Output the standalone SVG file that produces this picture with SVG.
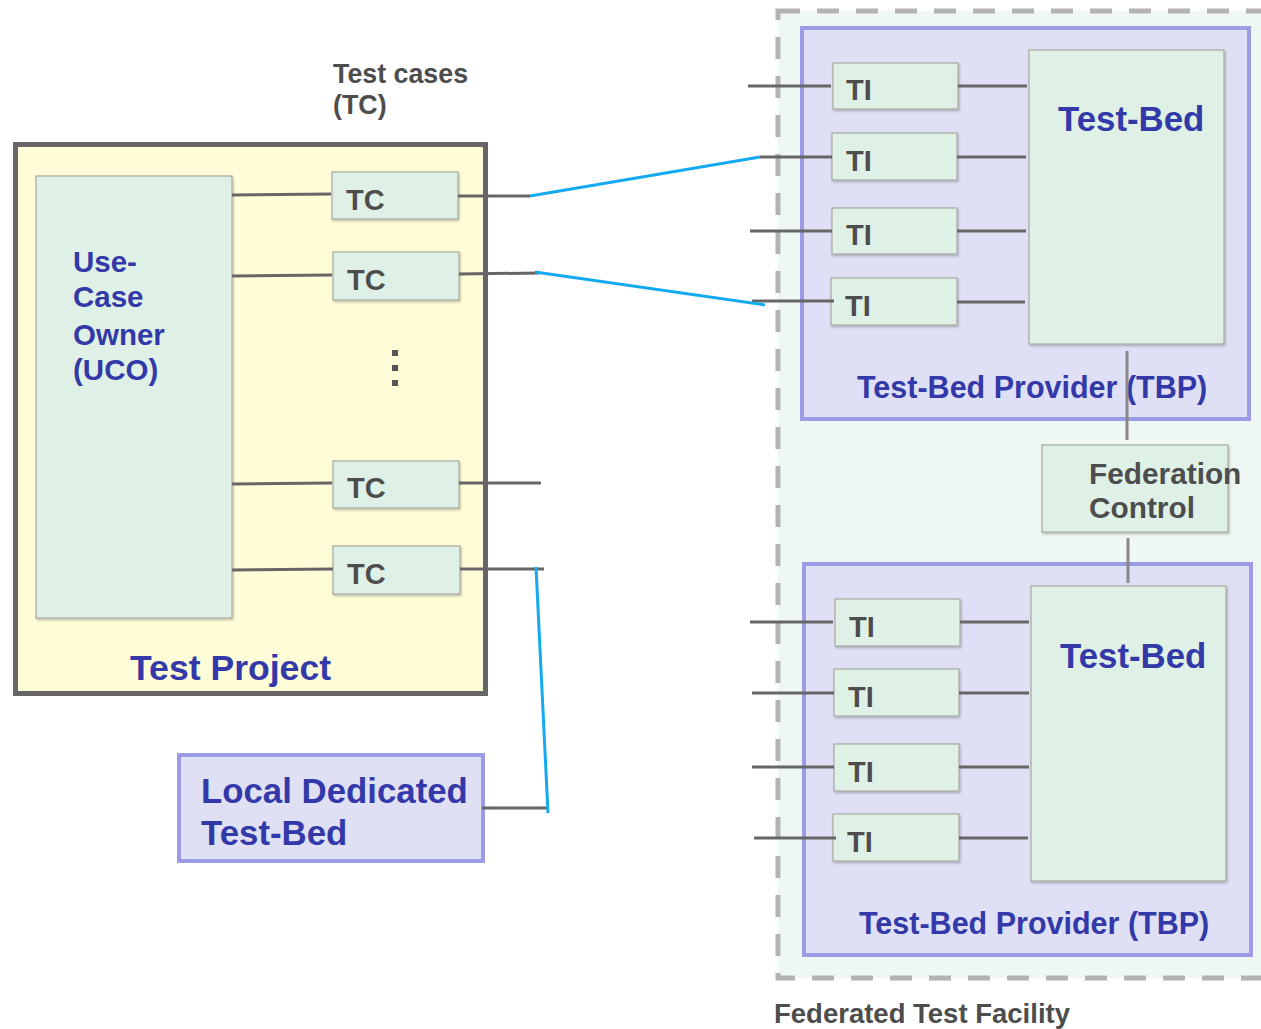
<svg xmlns="http://www.w3.org/2000/svg" width="1261" height="1029" viewBox="0 0 1261 1029">
<defs>
<filter id="sh" x="-10%" y="-10%" width="130%" height="130%"><feDropShadow dx="1" dy="1.5" stdDeviation="1" flood-color="#000" flood-opacity="0.25"/></filter>
</defs>
<style>
.bt{font-family:"Liberation Sans",Arial,sans-serif;font-weight:bold;fill:#3339a8}
.gt{font-family:"Liberation Sans",Arial,sans-serif;font-weight:bold;fill:#4d4d4d}
.box{fill:#dff1e7;stroke:#a8a8a0;stroke-width:1.2;filter:url(#sh)}
.tbp{fill:#dfe0f5;stroke:#9b9be6;stroke-width:4}
.ln{stroke:#666;stroke-width:3;fill:none}
.vl{stroke:#888;stroke-width:3;fill:none}
.bl{stroke:#14aaf0;stroke-width:3;fill:none}
</style>
<rect width="1261" height="1029" fill="#fff"/>

<g id="federated-test-facility">
<rect x="778" y="11" width="500" height="967" fill="#eef7f2" stroke="#b3b3b3" stroke-width="5" stroke-dasharray="22 17"/>
<text class="gt" x="774" y="1023" font-size="27.5">Federated Test Facility</text>
</g>

<g id="test-project">
<rect x="15.5" y="144.5" width="470" height="549" fill="#fffcd8" stroke="#666" stroke-width="5"/>
<text class="bt" x="130" y="680" font-size="35.6">Test Project</text>
</g>

<g id="uco">
<rect class="box" x="36" y="176" width="196" height="442"/>
<text class="bt" font-size="29.5"><tspan x="73" y="272">Use-</tspan><tspan x="73" y="307">Case</tspan><tspan x="73" y="345">Owner</tspan><tspan x="73" y="380">(UCO)</tspan></text>
</g>

<g id="test-cases-label">
<text class="gt" font-size="26.8"><tspan x="333" y="83">Test cases</tspan><tspan x="333" y="114">(TC)</tspan></text>
</g>

<g id="tc1"><rect class="box" x="332" y="172" width="126" height="47"/><text class="gt" x="346" y="210" font-size="29">TC</text></g>
<g id="tc2"><rect class="box" x="333" y="252" width="126" height="48"/><text class="gt" x="347" y="290" font-size="29">TC</text></g>
<g id="dots" fill="#555"><rect x="392" y="350" width="6" height="6"/><rect x="392" y="365" width="6" height="6"/><rect x="392" y="380" width="6" height="6"/></g>
<g id="tc3"><rect class="box" x="333" y="461" width="126" height="47"/><text class="gt" x="347" y="498" font-size="29">TC</text></g>
<g id="tc4"><rect class="box" x="333" y="546" width="127" height="48"/><text class="gt" x="347" y="584" font-size="29">TC</text></g>

<g id="local-test-bed">
<rect x="179" y="755" width="304" height="106" fill="#e0e0f5" stroke="#9b9be6" stroke-width="4"/>
<text class="bt" font-size="34.8"><tspan x="201" y="803">Local Dedicated</tspan><tspan x="201" y="845">Test-Bed</tspan></text>
</g>

<g id="tbp-upper">
<rect class="tbp" x="802" y="28" width="447" height="391"/>
<text class="bt" x="857" y="398" font-size="30.5">Test-Bed Provider (TBP)</text>
</g>
<g id="testbed-upper"><rect class="box" x="1029" y="50" width="195" height="294"/><text class="bt" x="1058" y="131" font-size="34.8">Test-Bed</text></g>
<g id="ti-u1"><rect class="box" x="833" y="63" width="125" height="46"/><text class="gt" x="846" y="100" font-size="29">TI</text></g>
<g id="ti-u2"><rect class="box" x="832" y="133" width="125" height="47"/><text class="gt" x="846" y="171" font-size="29">TI</text></g>
<g id="ti-u3"><rect class="box" x="832" y="208" width="125" height="46"/><text class="gt" x="846" y="245" font-size="29">TI</text></g>
<g id="ti-u4"><rect class="box" x="831" y="278" width="126" height="47"/><text class="gt" x="845" y="316" font-size="29">TI</text></g>

<g id="federation-control">
<rect class="box" x="1042" y="445" width="186" height="87"/>
<text class="gt" font-size="29.8"><tspan x="1089" y="484">Federation</tspan><tspan x="1089" y="518">Control</tspan></text>
</g>

<g id="tbp-lower">
<rect class="tbp" x="804" y="564" width="447" height="391"/>
<text class="bt" x="859" y="934" font-size="30.5">Test-Bed Provider (TBP)</text>
</g>
<g id="testbed-lower"><rect class="box" x="1031" y="586" width="195" height="295"/><text class="bt" x="1060" y="668" font-size="34.8">Test-Bed</text></g>
<g id="ti-l1"><rect class="box" x="835" y="599" width="125" height="47"/><text class="gt" x="849" y="637" font-size="29">TI</text></g>
<g id="ti-l2"><rect class="box" x="834" y="669" width="125" height="47"/><text class="gt" x="848" y="707" font-size="29">TI</text></g>
<g id="ti-l3"><rect class="box" x="834" y="744" width="125" height="47"/><text class="gt" x="848" y="782" font-size="29">TI</text></g>
<g id="ti-l4"><rect class="box" x="833" y="814" width="126" height="47"/><text class="gt" x="847" y="852" font-size="29">TI</text></g>

<g id="connectors">
<path class="ln" d="M232 195L331 194M232 276L332 275M232 484L332 483M232 570L333 569"/>
<path class="ln" d="M458 196L530 196M459 274L540 273M459 483L541 483M460 569L544 569M482 808L548 808"/>
<path class="ln" d="M748 86L831 86M760 157L832 157M750 231L832 231M752 301L834 301"/>
<path class="ln" d="M958 86L1027 86M957 157L1026 157M957 231L1026 231M957 302L1025 302"/>
<path class="ln" d="M750 622L833 622M752 693L834 693M752 767L834 767M754 838L836 838"/>
<path class="ln" d="M960 622L1029 622M959 693L1029 693M959 767L1029 767M959 838L1028 838"/>
<path class="vl" d="M1127 351L1127 440M1128 538L1128 583"/>
<path class="bl" d="M530 196L760 157M535 272L765 305M536 567L548 813"/>
</g>
</svg>
